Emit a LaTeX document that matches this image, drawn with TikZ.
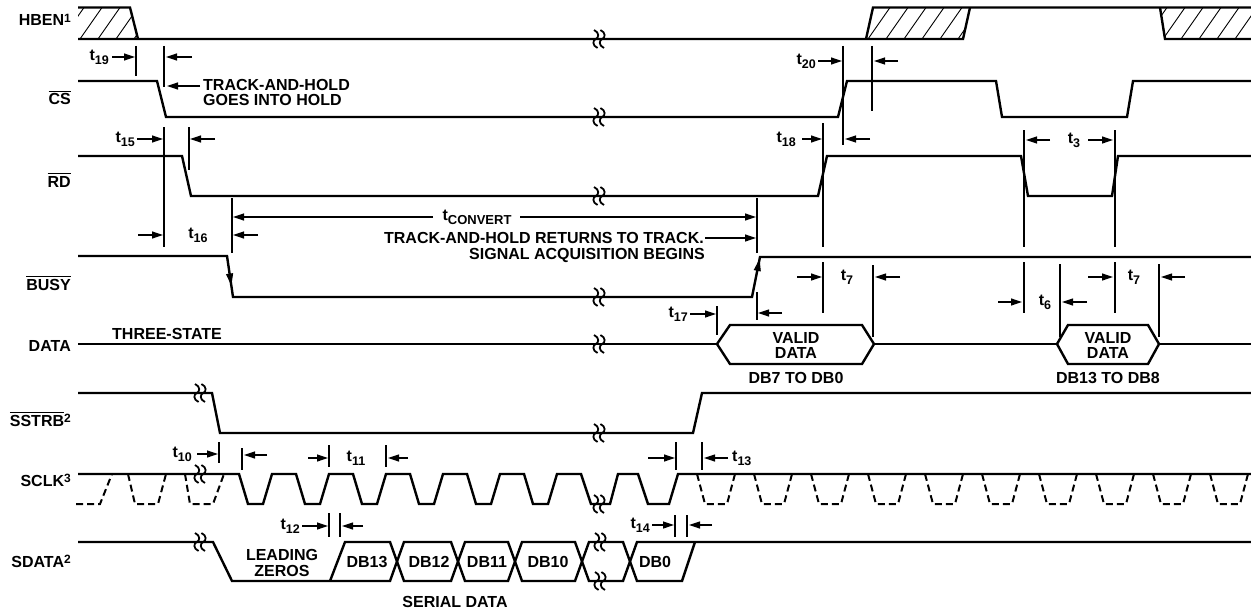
\documentclass[tikz,border=0pt]{standalone}
\usepackage{fontspec}
\setmainfont{Liberation Sans}
\usetikzlibrary{arrows.meta,calc}
\newcommand\tsb[1]{t\raisebox{-3.4pt}{\fontsize{12.5}{12.5}\selectfont #1}}
\newcommand\supr[1]{\raisebox{3.2pt}{\fontsize{12}{12}\selectfont #1}}
\newcommand\ovl[1]{\vbox{\hrule height 1.3pt\kern1.8pt\hbox{#1}}}
\tikzset{
  sig/.style={line width=2.4pt},
  thin/.style={line width=1.1pt},
  arr/.style={line width=1.2pt,-{Triangle[length=11pt,width=7pt]}},
  dsh/.style={line width=2pt,dash pattern=on 7pt off 4pt},
  hatch/.style={line width=0.9pt},
  lbl/.style={font=\fontsize{16}{18}\selectfont\bfseries, inner sep=0pt},
  brk/.pic={\foreach \d in {-3.2,3.2}{\draw[line width=1.8pt] (\d-1.8,-9) .. controls (\d+4,-6.5) and (\d+3,-1) .. (\d,0) .. controls (\d-3,1) and (\d-4,6.5) .. (\d+1.8,9);}}
}
\begin{document}
\begin{tikzpicture}[x=1pt,y=-1pt]
\fill[white] (0,0) rectangle (1251,610);
\useasboundingbox (0,0) rectangle (1251,610);

% ---------- HBEN ----------
\begin{scope}
\clip (78,7.5)--(130,7.5)--(138,39)--(78,39)--cycle;
\foreach \x in {62,80,...,152} \draw[hatch] (\x,39)--(\x+22,7.5);
\end{scope}
\begin{scope}
\clip (866,39)--(873,7.5)--(970,7.5)--(963,39)--cycle;
\foreach \x in {850,868,...,980} \draw[hatch] (\x,39)--(\x+22,7.5);
\end{scope}
\begin{scope}
\clip (1160,7.5)--(1251,7.5)--(1251,39)--(1165,39)--cycle;
\foreach \x in {1145,1163,...,1260} \draw[hatch] (\x,39)--(\x+22,7.5);
\end{scope}
\draw[sig] (78,7.5)--(130,7.5)--(138,39);
\draw[sig] (78,39)--(963,39)--(970,7.5);
\draw[sig] (866,39)--(873,7.5)--(1251,7.5);
\draw[sig] (1160,7.5)--(1165,39)--(1251,39);

% ---------- CS ----------
\draw[sig] (78,81)--(157,81)--(166,117)--(838,117)--(847,81)--(996,81)--(1002,117)--(1127,117)--(1133,81)--(1251,81);
% ---------- RD ----------
\draw[sig] (78,156)--(182,156)--(191,196)--(818,196)--(827,156)--(1021,156)--(1028,196)--(1112,196)--(1118,156)--(1251,156);
% ---------- BUSY ----------
\draw[sig] (78,256)--(227,256)--(233,297)--(752,297)--(760,257)--(1251,257);
\draw[line width=1pt,-{Triangle[length=12pt,width=7pt]}] (227,256)--($(227,256)!0.72!(233,297)$);
\draw[line width=1pt,-{Triangle[length=12pt,width=7pt]}] (752,297)--($(752,297)!0.95!(760,257)$);
% ---------- DATA ----------
\draw[sig] (78,344)--(717,344);
\draw[sig] (717,344)--(730,325)--(862,325)--(874,344)--(862,364)--(730,364)--cycle;
\draw[sig] (874,344)--(1057,344);
\draw[sig] (1057,344)--(1068,325)--(1148,325)--(1159,344)--(1148,364)--(1068,364)--cycle;
\draw[sig] (1159,344)--(1251,344);
% ---------- SSTRB ----------
\draw[sig] (78,393)--(212,393)--(220,433)--(693,433)--(702,393)--(1251,393);
% ---------- SCLK ----------
\draw[dsh] (76,504)--(100,504)--(112,474);
\draw[dsh] (128,474)--(135,504)--(158,504)--(166,474);
\draw[dsh] (185,474)--(190,504)--(213,504)--(224,474);
\foreach \f in {697,754,...,1210} \draw[dsh] (\f,474)--(\f+8,504)--(\f+30,504)--(\f+38,474);
\draw[sig] (78,474)--(239,474) \foreach \f in {239,296,...,524}{ --(\f+9,504)--(\f+24,504)--(\f+33,474)--(\f+57,474)}
  --(591,504)--(610,504)--(618,474)--(638,474)--(648,504)--(669,504)--(678,474)--(1251,474);
% ---------- SDATA ----------
\draw[sig] (78,542)--(213,542)--(232,581)--(390,581)--(404,542)--(451,542)--(465,581)--(508,581)--(522,542)--(575,542)--(589,581)--(623,581)--(637,542)--(695,542)--(1251,542);
\draw[sig] (330,581)--(345,542)--(390,542)--(404,581)--(451,581)--(465,542)--(508,542)--(522,581)--(575,581)--(589,542)--(623,542)--(637,581)--(682,581)--(695,542);

% ---------- break marks ----------
\foreach \p in {(599,39),(599,117),(599,196),(599,297),(599,344),(200,393),(599,433),(200,474),(599,504),(200,542),(600,542),(600,581)}
  \pic at \p {brk};

% ---------- reference lines ----------
\foreach \x/\a/\b in {136/46/76, 164/46/87, 164/127/247, 189/127/170, 232/198/253,
  757/198/253, 757/292/320, 717/306/335, 843/46/145, 872/46/111,
  823/123/247, 823/262/313, 873/265/337, 1024/130/247, 1024/262/313,
  1115/130/247, 1115/262/313, 1060/264/337, 1159/264/337,
  219/442/463, 242/448/470, 329/445/467, 386/445/467, 329/513/537, 340/513/537,
  676/442/470, 702/442/470, 675/515/537, 687/515/537}
  \draw[thin] (\x,\a)--(\x,\b);

% ---------- arrows ----------
\foreach \xa/\ya/\xb/\yb in {112/57/135/57, 192/57/166/57, 200/86/167/86,
  137/139/163/139, 215/139/190/139, 138/235/163/235, 258/235/233/235,
  433/217/233/217, 520/217/756/217, 705/238/756/238,
  690/314/716/314, 782/313/758/313, 802/139/822/139, 870/139/845/139,
  818/61/842/61, 898/61/874/61, 797/277/822/277, 900/277/875/277,
  1050/140/1026/140, 1088/140/1113/140, 998/302/1022/302, 1087/302/1062/302,
  1088/277/1113/277, 1185/277/1161/277, 197/454/218/454, 267/455/244/455,
  308/458/328/458, 408/458/388/458, 302/526/328/526, 363/526/342/526,
  648/458/675/458, 728/458/704/458, 652/525/674/525, 712/525/689/525}
  \draw[arr] (\xa,\ya)--(\xb,\yb);

% ---------- signal names ----------
\node[lbl,anchor=base east] (lhben) at (71,26) {HBEN\supr{1}};
\node[lbl,anchor=base east] (lcs) at (71,105) {\ovl{CS}};
\node[lbl,anchor=base east] (lrd) at (71,187) {\ovl{RD}};
\node[lbl,anchor=base east] (lbusy) at (71,290) {\ovl{BUSY}};
\node[lbl,anchor=base east] (ldata) at (71,351) {DATA};
\node[lbl,anchor=base east] (lsstrb) at (71,426) {\ovl{SSTRB}\supr{2}};
\node[lbl,anchor=base east] (lsclk) at (71,486) {SCLK\supr{3}};
\node[lbl,anchor=base east] (lsdata) at (71,567) {SDATA\supr{2}};

% ---------- texts ----------
\node[lbl,anchor=base west] (three) at (112,339) {THREE-STATE};
\node[lbl,anchor=base west] (th1) at (203,91) {TRACK-AND-HOLD};
\node[lbl,anchor=base west] (th2) at (203,106) {GOES INTO HOLD};
\node[lbl,anchor=base east] (tr1) at (704,243) {TRACK-AND-HOLD RETURNS TO TRACK.};
\node[lbl,anchor=base east] (tr2) at (705,259) {SIGNAL ACQUISITION BEGINS};
\node[lbl,anchor=base] (v1a) at (796,343) {VALID};
\node[lbl,anchor=base] (v1b) at (796,358) {DATA};
\node[lbl,anchor=base] (v1c) at (796,383) {DB7 TO DB0};
\node[lbl,anchor=base] (v2a) at (1108,343) {VALID};
\node[lbl,anchor=base] (v2b) at (1108,358) {DATA};
\node[lbl,anchor=base] (v2c) at (1108,383) {DB13 TO DB8};
\node[lbl,anchor=base] (lz1) at (282,560) {LEADING};
\node[lbl,anchor=base] (lz2) at (282,576) {ZEROS};
\node[lbl,anchor=base] (d13) at (367,567) {DB13};
\node[lbl,anchor=base] (d12) at (429,567) {DB12};
\node[lbl,anchor=base] (d11) at (487,567) {DB11};
\node[lbl,anchor=base] (d10) at (548,567) {DB10};
\node[lbl,anchor=base] (d0) at (655,567) {DB0};
\node[lbl,anchor=base] (ser) at (455,607) {SERIAL DATA};

% ---------- timing labels ----------
\node[lbl,anchor=mid east] (t19) at (109,58) {\tsb{19}};
\node[lbl,anchor=mid east] (t15) at (135,140) {\tsb{15}};
\node[lbl,anchor=mid] (t16) at (198,236) {\tsb{16}};
\node[lbl,anchor=mid] (tconv) at (477,218) {t\raisebox{-3.4pt}{\fontsize{13}{13}\selectfont CONVERT}};
\node[lbl,anchor=mid east] (t17) at (688,315) {\tsb{17}};
\node[lbl,anchor=mid east] (t20) at (816,62) {\tsb{20}};
\node[lbl,anchor=mid east] (t18) at (796,140) {\tsb{18}};
\node[lbl,anchor=mid] (t3) at (1074,141) {\tsb{3}};
\node[lbl,anchor=mid] (t7a) at (847,278) {\tsb{7}};
\node[lbl,anchor=mid] (t6) at (1045,303) {\tsb{6}};
\node[lbl,anchor=mid] (t7b) at (1134,278) {\tsb{7}};
\node[lbl,anchor=mid east] (t10) at (192,455) {\tsb{10}};
\node[lbl,anchor=mid] (t11) at (356,459) {\tsb{11}};
\node[lbl,anchor=mid east] (t12) at (300,527) {\tsb{12}};
\node[lbl,anchor=mid west] (t13) at (732,459) {\tsb{13}};
\node[lbl,anchor=mid east] (t14) at (650,526) {\tsb{14}};
\end{tikzpicture}
\end{document}
